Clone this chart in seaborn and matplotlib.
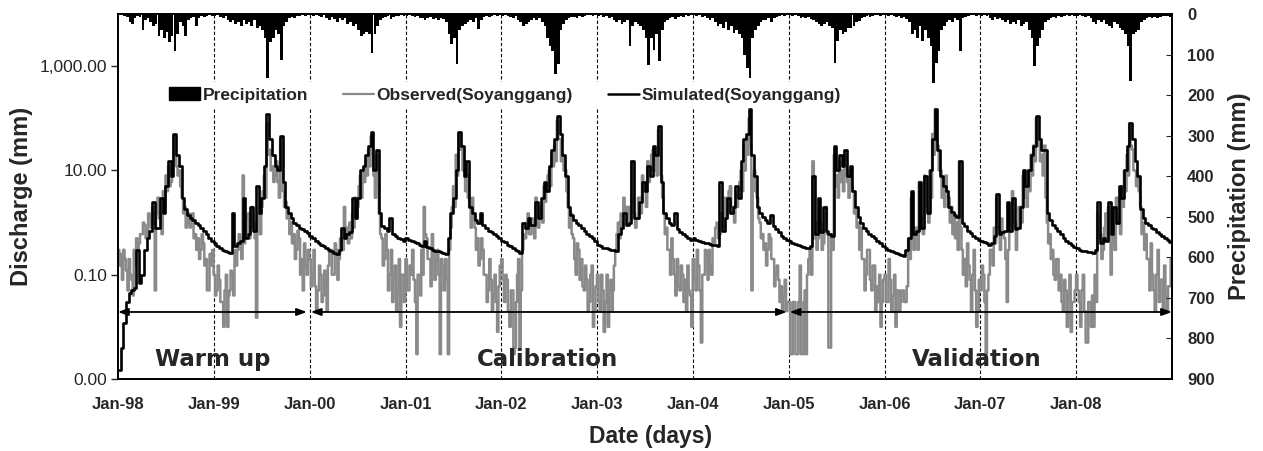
import numpy as np
import pandas as pd
import matplotlib
matplotlib.use("Agg")
import matplotlib.pyplot as plt
import matplotlib.dates as mdates
from matplotlib.ticker import FixedLocator, FuncFormatter
from matplotlib.lines import Line2D
from matplotlib.patches import Patch
import seaborn as sns

# ---------------- data, Jan-1998 .. Dec-2008 ----------------
years = list(range(1998, 2009))
pentad_days = [1, 6, 11, 16, 21, 26]   # observed: 5-day steps
dekad_days = [1, 11, 21]               # simulated / precipitation: 10-day steps

observed = [
    # 1998
    0.3,0.15,0.25,0.08,0.3,0.2, 0.12,0.05,0.2,0.1,0.08,0.04, 0.3,0.15,0.5,0.3,0.4,0.6,
    0.6,1.0,0.9,0.5,0.7,1.5, 1.2,0.8,2.0,1.0,0.05,1.5, 3,1.2,1.5,0.6,4,2,
    8,4,12,5,6,15, 45,20,12,8,10,5, 3,1.5,2,0.8,1.0,1.5,
    0.8,1.2,1.5,0.5,0.6,0.3, 0.5,0.2,0.3,0.6,0.4,0.15, 0.2,0.05,0.05,0.25,0.15,0.3,
    # 1999
    0.1,0.04,0.05,0.15,0.08,0.03, 0.03,0.01,0.05,0.1,0.01,0.04, 0.05,0.12,0.1,0.04,0.3,0.15,
    0.3,0.6,0.5,0.2,8,0.4, 0.6,1.2,1.5,0.5,0.8,2, 1,0.5,0.015,1.2,1.5,0.6,
    2,4,8,3,80,20, 25,10,12,6,8,15, 6,3,40,10,4,2,
    2.5,1.2,1.5,0.6,1.0,0.4, 0.6,0.2,0.3,0.7,0.5,0.1, 0.2,0.05,0.4,0.15,0.1,0.3,
    # 2000
    0.2,0.06,0.1,0.3,0.06,0.02, 0.05,0.15,0.1,0.03,0.04,0.12, 0.08,0.02,0.15,0.3,0.3,0.1,
    0.1,0.4,0.3,0.08,0.2,0.5, 0.5,0.3,2,0.6,0.8,0.4, 1,0.5,1.5,0.8,3,1.2,
    2,5,8,3,10,6, 15,8,25,12,45,20, 8,3,20,5,1.5,0.6,
    0.5,0.15,0.2,0.6,0.3,0.05, 0.1,0.3,0.03,0.08,0.15,0.02, 0.05,0.2,0.01,0.1,0.1,0.03,
    # 2001
    0.2,0.05,0.05,0.15,0.1,0.3, 0.08,0.03,0.003,0.1,0.1,0.04, 0.3,0.1,2,0.6,0.5,0.2,
    0.2,0.06,0.6,0.3,0.08,0.2, 0.3,0.1,0.003,0.2,0.15,0.05, 0.2,0.08,0.003,0.3,0.8,2,
    5,2,20,8,50,25, 30,10,10,4,8,3, 2,0.8,3,1.2,0.8,0.3,
    0.5,0.15,0.2,0.5,0.3,0.1, 0.1,0.03,0.05,0.2,0.08,0.02, 0.04,0.1,0.03,0.008,0.06,0.15,
    # 2002
    0.2,0.08,0.03,0.1,0.08,0.02, 0.01,0.05,0.05,0.003,0.004,0.03, 0.1,0.2,0.004,0.05,0.3,0.6,
    0.5,1.0,1.5,0.6,0.6,1.2, 1.2,0.5,3,1.0,0.8,1.5, 2,1,5,2.5,4,8,
    10,5,20,12,30,15, 90,40,40,15,20,10, 10,4,2,0.8,1.5,0.6,
    0.5,0.2,0.1,0.4,0.3,0.08, 0.2,0.06,0.05,0.15,0.08,0.02, 0.03,0.1,0.15,0.01,0.02,0.06,
    # 2003
    0.1,0.03,0.02,0.1,0.05,0.008, 0.03,0.1,0.01,0.05,0.08,0.02, 0.05,0.15,0.3,0.6,1.0,0.5,
    1.5,0.8,3,1.5,2,1, 2,1,15,3,1.5,0.8, 1.2,3,3,1.5,8,4,
    5,2,15,6,10,20, 25,10,20,8,60,25, 8,3,1.5,0.6,0.8,0.3,
    0.3,0.1,0.5,0.2,0.1,0.04, 0.2,0.06,0.05,0.15,0.1,0.03, 0.08,0.02,0.15,0.05,0.04,0.01,
    # 2004
    0.2,0.08,0.05,0.3,0.15,0.05, 0.005,0.1,0.1,0.3,0.2,0.08, 0.3,0.15,0.1,0.5,0.4,0.8,
    1,0.5,0.6,1.5,1.5,0.8, 3,1.2,1.5,4,5,2, 2,1,4,2,3,6,
    10,4,30,10,40,20, 100,30,0.05,8,10,4, 3,1.2,1,0.5,0.6,0.3,
    0.4,0.15,0.3,0.6,0.5,0.2, 0.2,0.06,0.1,0.15,0.08,0.03, 0.06,0.02,0.04,0.08,0.02,0.03,
    # 2005
    0.03,0.003,0.003,0.03,0.03,0.003, 0.003,0.03,0.15,0.003,0.003,0.03, 0.05,0.003,0.1,0.2,0.3,0.1,
    15,0.5,1,0.3,0.5,2, 1,0.3,0.4,1.5,2,0.6, 0.004,0.004,0.6,0.3,20,5,
    8,3,15,6,10,4, 20,8,6,3,10,5, 4,1.5,2,0.8,1.0,0.3,
    0.8,0.2,0.2,0.05,0.1,0.3, 0.3,0.08,0.05,0.15,0.15,0.02, 0.06,0.03,0.1,0.01,0.03,0.08,
    # 2006
    0.1,0.03,0.03,0.2,0.08,0.02, 0.04,0.1,0.01,0.05,0.05,0.02, 0.03,0.05,0.05,0.03,0.03,0.06,
    0.5,0.2,3,0.6,0.3,0.8, 0.8,0.3,6,1.5,1.2,0.6, 8,2,2,1,10,3,
    50,20,150,40,30,10, 10,3,5,2,8,4, 3,1,2,0.6,1.5,0.5,
    1.0,0.3,15,0.8,0.3,0.1, 0.2,0.06,0.4,0.15,0.08,0.02, 0.1,0.3,0.05,0.01,0.02,0.08,
    # 2007
    0.05,0.15,0.1,0.03,0.003,0.05, 0.1,0.3,0.3,0.15,0.8,0.4, 3,0.8,0.8,0.3,1.2,0.6,
    0.5,0.2,0.03,0.3,2,0.8, 4,1,1,0.3,0.8,2, 2,1,8,3,5,2,
    10,4,20,8,30,15, 100,30,40,15,20,8, 30,3,1,0.4,0.6,0.2,
    0.3,0.1,0.08,0.2,0.2,0.05, 0.1,0.03,0.02,0.08,0.05,0.01, 0.04,0.1,0.008,0.03,0.03,0.05,
    # 2008
    0.1,0.05,0.03,0.01,0.05,0.1, 0.02,0.005,0.005,0.03,0.03,0.01, 0.04,0.01,0.1,0.03,1.5,0.5,
    0.6,0.2,0.3,0.8,1.5,0.5, 2,0.6,0.1,0.4,0.8,0.3, 3,1,1.2,0.6,5,2,
    10,4,20,8,80,30, 25,10,10,5,8,4, 2,0.6,1,0.3,0.6,0.2,
    0.2,0.05,0.4,0.1,0.05,0.02, 0.1,0.3,0.03,0.08,0.08,0.02, 0.15,0.04,0.02,0.06,0.06,0.2,
]

simulated = [
    # 1998
    0.0015,0.004,0.012, 0.03,0.045,0.05, 0.055,0.3,0.07, 0.1,0.3,0.5, 0.7,2.5,0.8, 0.8,3,1.5, 5,15,8, 50,20,12, 3,1.8,1.4, 1.2,1.1,1.0, 0.9,0.8,0.7, 0.6,0.5,0.45,
    # 1999
    0.4,0.35,0.32, 0.3,0.28,0.27, 0.26,1.5,0.35, 0.4,0.45,3, 0.5,0.6,2, 0.7,5,1.5, 3,12,120, 40,20,12, 10,45,6, 2,1.5,1.2, 1.0,0.9,0.8, 0.75,0.7,0.62,
    # 2000
    0.55,0.5,0.45, 0.4,0.37,0.35, 0.32,0.3,0.28, 0.26,0.25,0.3, 0.8,0.5,0.6, 0.65,3,1.2, 3,10,12, 20,30,55, 10,25,1.5, 0.85,0.8,0.7, 1.2,0.6,0.55, 0.5,0.48,0.45,
    # 2001
    0.5,0.47,0.44, 0.42,0.4,0.38, 0.36,0.45,0.34, 0.32,0.3,0.29, 0.28,0.27,0.26, 0.25,0.5,1.5, 3,10,55, 30,8,15, 2,1.5,1.1, 1.0,1.5,0.9, 0.8,0.7,0.65, 0.6,0.55,0.5,
    # 2002
    0.45,0.42,0.38, 0.35,0.32,0.3, 0.28,0.26,1.0, 0.8,1.2,0.9, 0.9,2.5,1.2, 3,6,4, 12,25,40, 110,50,20, 8,2,1.4, 1.1,1.0,0.9, 0.8,0.7,0.6, 0.55,0.5,0.45,
    # 2003
    0.37,0.35,0.33, 0.32,0.31,0.3, 0.3,0.29,0.6, 0.8,1.5,0.9, 1.0,15,1.2, 1.2,2.5,6, 4,12,8, 30,20,70, 6,1.5,1.2, 1.0,0.9,1.5, 0.75,0.65,0.6, 0.55,0.5,0.47,
    # 2004
    0.5,0.47,0.45, 0.43,0.41,0.4, 0.39,0.38,0.37, 0.36,6,0.7, 1.2,3,1.5, 2,5,3, 15,40,50, 150,20,8, 2,1.5,1.3, 1.1,1.0,1.4, 0.85,0.75,0.65, 0.55,0.5,0.47,
    # 2005
    0.44,0.41,0.39, 0.37,0.35,0.34, 0.33,0.32,0.35, 8,0.6,3, 0.65,2,0.7, 0.6,0.55,30, 10,20,12, 25,8,12, 4,2,1.3, 1.0,0.8,0.7, 0.6,0.55,0.5, 0.45,0.4,0.36,
    # 2006
    0.33,0.3,0.28, 0.27,0.26,0.25, 0.24,0.23,0.3, 0.5,4,0.6, 0.7,6,0.8, 8,1.5,10, 40,150,25, 8,5,4, 2,1.6,1.4, 1.3,15,1.0, 0.85,0.7,0.62, 0.55,0.5,0.47,
    # 2007
    0.45,0.42,0.4, 0.38,0.4,0.55, 3.5,0.6,0.65, 0.7,2.5,0.7, 3,0.75,0.8, 2,10,5, 10,20,30, 110,40,25, 25,1.5,1.1, 0.9,0.8,0.7, 0.6,0.5,0.45, 0.4,0.37,0.34,
    # 2008
    0.32,0.3,0.29, 0.28,0.27,0.27, 0.26,0.3,2.5, 0.4,0.5,0.45, 2.5,0.6,2, 1,5,3, 10,30,80, 40,15,8, 1.8,1.2,1.0, 0.9,0.8,0.75, 0.65,0.6,0.55, 0.5,0.46,0.42,
]

precipitation = [
    # 1998
    3,2,5, 8,20,25, 10,5,8, 40,15,10, 20,30,25, 55,40,60, 45,70,55, 91,50,20, 30,54,15, 10,8,30, 10,5,8, 5,3,5,
    # 1999
    5,3,8, 10,5,15, 20,15,25, 20,30,15, 25,20,30, 15,35,30, 40,60,157, 70,60,40, 50,114,30, 20,10,8, 10,5,5, 3,5,3,
    # 2000
    3,5,3, 5,8,3, 10,15,8, 12,20,10, 15,10,25, 20,30,25, 40,55,50, 45,50,96, 50,30,15, 10,8,5, 12,8,5, 5,3,5,
    # 2001
    5,3,5, 8,5,10, 10,15,10, 8,12,10, 15,10,12, 20,50,75, 60,123,40, 30,25,20, 15,20,10, 37,15,8, 5,8,5, 3,5,3,
    # 2002
    5,3,5, 8,10,5, 15,20,30, 25,20,15, 10,15,10, 20,30,60, 80,90,148, 123,40,25, 15,10,8, 8,10,5, 8,5,3, 3,5,3,
    # 2003
    5,3,8, 5,10,8, 15,20,15, 25,20,15, 79,30,20, 25,30,40, 60,125,60, 88,50,115, 40,20,15, 10,8,12, 8,5,8, 3,5,3,
    # 2004
    3,5,3, 8,5,10, 15,10,20, 30,25,35, 20,40,30, 47,40,50, 60,100,133, 157,60,40, 30,20,15, 15,10,20, 10,8,5, 3,5,3,
    # 2005
    3,5,3, 5,10,8, 10,8,12, 15,20,25, 30,25,20, 30,35,120, 66,40,50, 45,35,34, 30,20,17, 10,8,5, 8,5,3, 3,5,3,
    # 2006
    3,5,3, 5,8,5, 10,8,12, 20,50,40, 58,30,66, 40,60,80, 170,120,91, 40,30,20, 15,20,10, 15,91,10, 8,5,3, 3,5,3,
    # 2007
    5,3,5, 10,15,8, 12,10,15, 20,15,25, 20,25,15, 30,25,20, 40,60,128, 80,58,40, 20,15,10, 8,10,5, 8,5,3, 5,3,5,
    # 2008
    5,3,5, 8,5,10, 20,25,15, 20,15,25, 30,35,20, 25,35,40, 50,80,165, 50,45,40, 20,15,10, 8,10,8, 10,8,5, 5,5,8,
]

left_ticks = [0.001, 0.1, 10, 1000]
right_ticks = list(range(0, 901, 100))
periods = [("Warm up", "1998-01-01", "1999-12-22", "1998-12-28"),
           ("Calibration", "2000-01-06", "2004-12-24", "2002-06-27"),
           ("Validation", "2005-01-04", "2008-12-31", "2006-12-16")]

# ---------------- figure ----------------
sns.set_style("white")
plt.rcParams["font.family"] = ["Liberation Sans", "DejaVu Sans"]

obs_dates = pd.to_datetime([f"{y}-{m:02d}-{d:02d}" for y in years
                            for m in range(1, 13) for d in pentad_days]) + pd.Timedelta(hours=60)
dek_starts = pd.to_datetime([f"{y}-{m:02d}-{d:02d}" for y in years
                             for m in range(1, 13) for d in dekad_days])
df_obs = pd.DataFrame({"date": obs_dates, "Observed": observed})
df_sim = pd.DataFrame({"date": dek_starts + pd.Timedelta(days=5), "Simulated": simulated})

fig = plt.figure(figsize=(12.63, 4.51), dpi=100)
ax = fig.add_axes([0.0934, 0.1596, 0.8345, 0.8093])

sns.lineplot(data=df_obs, x="date", y="Observed", ax=ax, color="#8a8a8a",
             lw=1.8, drawstyle="steps-mid")
sns.lineplot(data=df_sim, x="date", y="Simulated", ax=ax, color="black",
             lw=1.9, drawstyle="steps-mid")

ax.set_yscale("log")
ax.set_ylim(0.001, 10000)
ax.yaxis.set_major_locator(FixedLocator(left_ticks))
ax.yaxis.set_minor_locator(FixedLocator([]))
ax.yaxis.set_major_formatter(FuncFormatter(lambda v, p: f"{v:,.2f}"))
x0, x1 = pd.Timestamp("1998-01-01"), pd.Timestamp("2008-12-31")
ax.set_xlim(x0, x1)
ax.xaxis.set_major_locator(mdates.YearLocator())
ax.xaxis.set_major_formatter(mdates.DateFormatter("%b-%y"))
ax.tick_params(axis="x", length=0, pad=13, labelsize=12)
for lab in ax.get_xticklabels():
    lab.set_fontweight("bold")
ax.tick_params(axis="y", direction="out", length=5, width=1, pad=3, labelsize=12.5)

for y in range(1999, 2009):
    ax.axvline(pd.Timestamp(f"{y}-01-01"), color="black", lw=0.8, ls=(0, (3, 2)), zorder=1)

for name, s, e, c in periods:
    ax.annotate("", xy=(mdates.date2num(pd.Timestamp(e)), 0.0193),
                xytext=(mdates.date2num(pd.Timestamp(s)), 0.0193),
                arrowprops=dict(arrowstyle="<|-|>,head_length=0.6,head_width=0.22",
                                color="black", lw=1.3, shrinkA=0, shrinkB=0))
    ax.text(mdates.date2num(pd.Timestamp(c)), 0.0024, name, ha="center", va="center",
            fontsize=16.5, fontweight="bold", family=["DejaVu Sans"])

ax.set_xlabel("Date (days)", fontsize=16.5, fontweight="bold")
ax.xaxis.set_label_coords(0.5057, -0.126)
ax.xaxis.label.set_va("top")
ax.set_ylabel("Discharge (mm)", fontsize=17, fontweight="bold")
ax.yaxis.set_label_coords(-0.081, 0.5)

for sp in ax.spines.values():
    sp.set_color("black")
    sp.set_linewidth(1.3)

ax2 = ax.twinx()
ax2.bar(dek_starts, precipitation, width=10.5, align="edge", color="black", linewidth=0)
ax2.set_ylim(900, 0)
ax2.yaxis.set_major_locator(FixedLocator(right_ticks))
ax2.tick_params(axis="y", direction="in", length=4, pad=11, labelsize=12)
for lab in ax2.get_yticklabels():
    lab.set_fontweight("bold")
ax2.set_ylabel("Precipitation (mm)", fontsize=17, fontweight="bold")
ax2.yaxis.set_label_coords(1.053, 0.5)
ax2.set_xlim(x0, x1)
for sp in ax2.spines.values():
    sp.set_color("black")
    sp.set_linewidth(1.3)

handles = [Patch(facecolor="black", edgecolor="black"),
           Line2D([], [], color="#8a8a8a", lw=1.6),
           Line2D([], [], color="black", lw=1.8)]
labels = ["Precipitation", "Observed(Soyanggang)", "Simulated(Soyanggang)"]
leg = ax2.legend(handles, labels, ncol=3, loc="center left", bbox_to_anchor=(0.035, 0.778),
                 frameon=True, facecolor="white", edgecolor="none", framealpha=1,
                 fancybox=False, handlelength=1.8, handletextpad=0.15, columnspacing=2.0,
                 borderpad=0.3, prop={"weight": "bold", "size": 12.5})

fig.savefig("out.png", dpi=100)
